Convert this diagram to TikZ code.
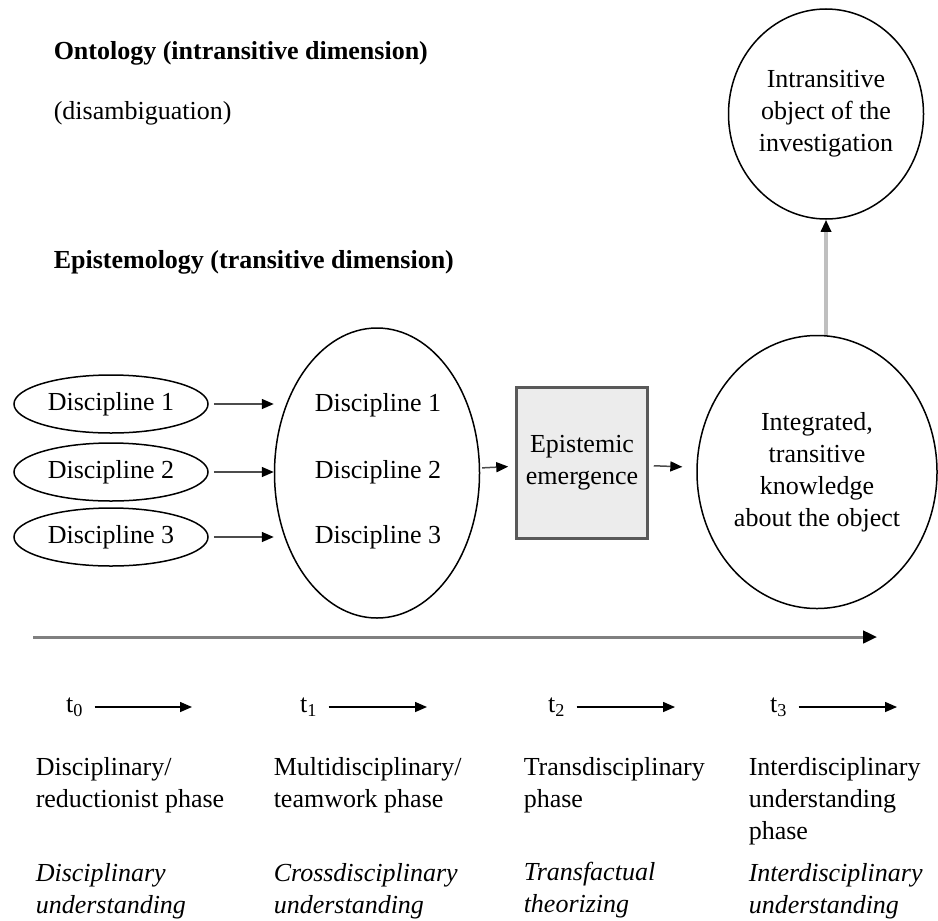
\documentclass[tikz,border=0pt]{standalone}
\usepackage{fontspec}
\setmainfont{Liberation Serif}
\usetikzlibrary{shapes.geometric,arrows.meta}

\begin{document}
\begin{tikzpicture}[x = 0.4pt, y = -0.4pt, line width = 0.6pt,
        font = \fontsize{10.4}{12.8}\selectfont,
        every node/.style = {inner sep = 0pt},
        small/.style = {draw, ellipse, minimum width = 77.6pt, minimum height = 23.2pt},
        tip/.style = {-{Triangle[length = 4.8pt, width = 4pt, black]}},
        phase/.style = {anchor = north west, align = left}]

        \useasboundingbox (0,0) rectangle (938,920);

        % Headings of the two dimensions.
        \node[anchor = west, font = \fontsize{10.4}{12.8}\selectfont\bfseries] (onto) at (53,53) {Ontology (intransitive dimension)};
        \node[anchor = west] (disamb) at (53,113) {(disambiguation)};
        \node[anchor = west, font = \fontsize{10.4}{12.8}\selectfont\bfseries] (epist) at (53,262) {Epistemology (transitive dimension)};

        % The separate disciplines.
        \node[small] (d1) at (111,404) {Discipline 1};
        \node[small] (d2) at (111,472) {Discipline 2};
        \node[small] (d3) at (111,537) {Discipline 3};

        % Disciplines side by side.
        \node[draw, ellipse, minimum width = 82pt, minimum height = 116pt] (multi) at (377,473) {};
        \node (m1) at (378,405) {Discipline 1};
        \node (m2) at (378,472) {Discipline 2};
        \node (m3) at (378,537) {Discipline 3};

        \node[draw = gray!70!black, line width = 1pt, fill = gray!15, minimum width = 52.4pt,
            minimum height = 60.4pt, align = center] (emerg) at (582,463) {Epistemic\\emergence};

        \node[draw, ellipse, minimum width = 96pt, minimum height = 109.2pt, align = center]
            (integ) at (817,472) {Integrated,\\transitive\\knowledge\\about the object};

        \node[draw, ellipse, minimum width = 78pt, minimum height = 84pt, align = center]
            (object) at (826,114) {Intransitive\\object of the\\investigation};

        % Arrows between them.
        \foreach \i in {1,2,3}
            \draw[tip, gray!60!black, shorten <= 2pt] (d\i) -- (d\i -| multi.west);
        \draw[tip, gray!60!black, shorten <= 0.8pt, shorten >= 2.8pt] (multi) -- (emerg);
        \draw[tip, gray!60!black, shorten <= 2pt, shorten >= 5.6pt] (emerg) -- (integ);
        \draw[tip, gray!50, line width = 1.4pt] (object |- integ.north) -- (object);

        % Time line.
        \coordinate (tl0) at (33,637);
        \coordinate (tl1) at (877,637);
        \draw[-{Triangle[length = 5.6pt, width = 5pt, black]}, gray, line width = 1.2pt] (tl0) -- (tl1);

        \foreach \n/\x/\e in {0/75/192, 1/309/427, 2/557/675, 3/779/897} {
            \node (t\n) at (\x,707) {t\textsubscript{\n}};
            \coordinate (t\n end) at (\e,707);
            \draw[tip, shorten <= 4pt] (t\n) -- (t\n end);
        }

        % Phases and kinds of understanding.
        \node[phase] (p0) at (35,757) {Disciplinary/\\reductionist phase};
        \node[phase] (p1) at (273,757) {Multidisciplinary/\\teamwork phase};
        \node[phase] (p2) at (523,757) {Transdisciplinary\\phase};
        \node[phase] (p3) at (748,757) {Interdisciplinary\\understanding\\phase};

        \node[phase, font = \fontsize{10.4}{12.8}\selectfont\itshape] (u0) at (35,863) {Disciplinary\\understanding};
        \node[phase, font = \fontsize{10.4}{12.8}\selectfont\itshape] (u1) at (273,863) {Crossdisciplinary\\understanding};
        \node[phase, font = \fontsize{10.4}{12.8}\selectfont\itshape] (u2) at (523,861) {Transfactual\\theorizing};
        \node[phase, font = \fontsize{10.4}{12.8}\selectfont\itshape] (u3) at (748,863) {Interdisciplinary\\understanding};
\end{tikzpicture}
\end{document}
